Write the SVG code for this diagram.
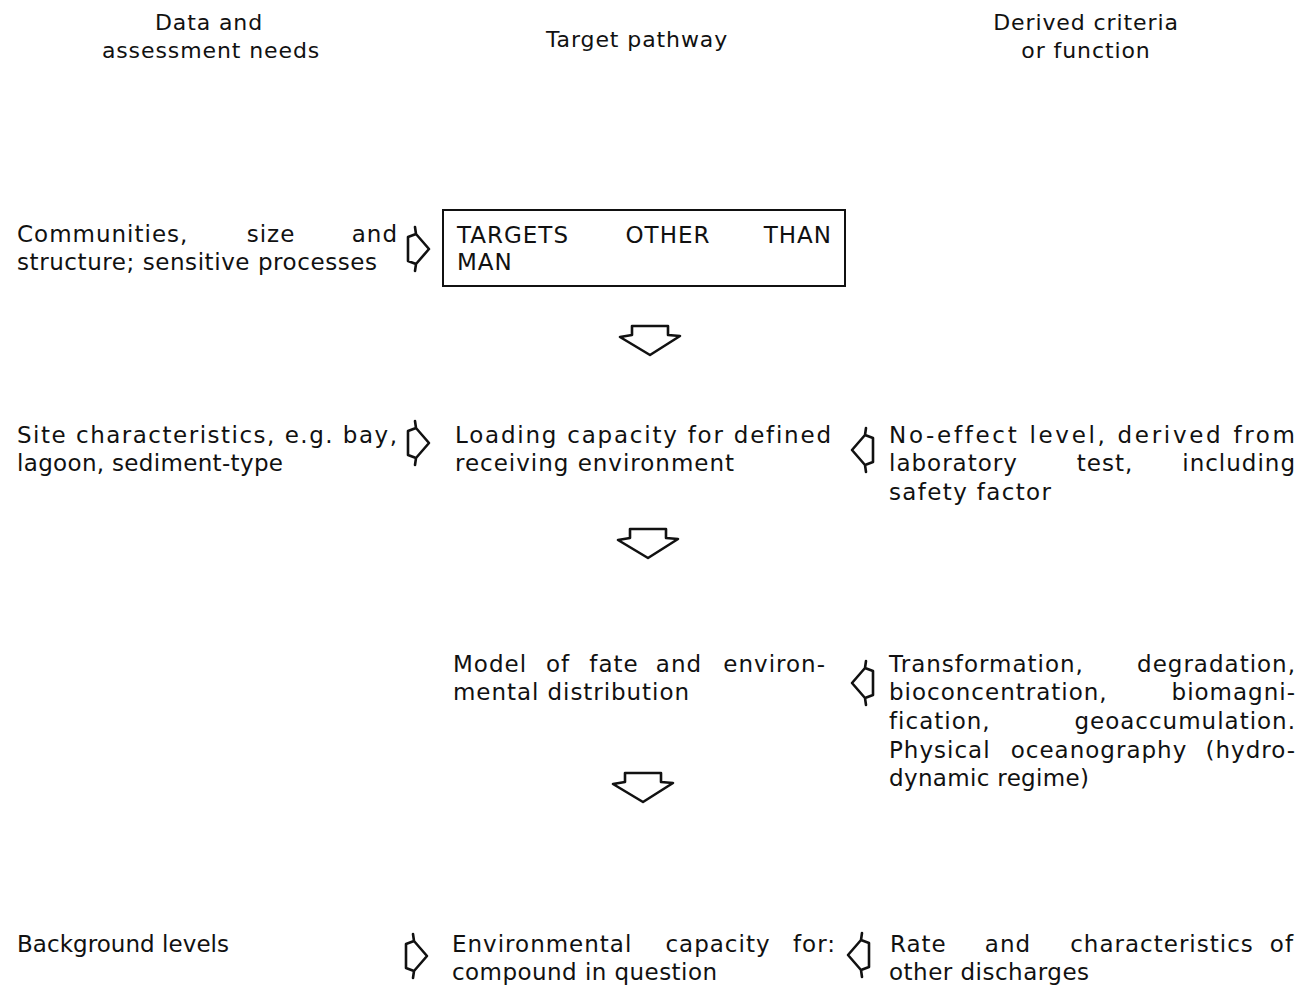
<svg xmlns="http://www.w3.org/2000/svg" xmlns:xlink="http://www.w3.org/1999/xlink" width="1311" height="987" viewBox="0 0 1311 987">
<style>
text{font-family:"DejaVu Sans","Liberation Sans",sans-serif;font-size:23px;fill:#111;letter-spacing:1px}
.h{letter-spacing:0.9px;font-size:22px}
.arr{fill:none;stroke:#111;stroke-width:2.6;stroke-linejoin:round;stroke-linecap:round}
.box{fill:none;stroke:#111;stroke-width:2}
.c{text-anchor:middle}
.e{text-anchor:end}
</style>
<defs>
<path id="ra" class="arr" d="M-13,-15 L0,0 L-13,15 L-21,12 L-21,-12 Z M-13,-15 L-14,-22 M-13,15 L-14,22"/>
<path id="da" class="arr" d="M-30,-18 L-18,-20 L-18,-29 L18,-29 L18,-20 L30,-19 L0,0 Z"/>
</defs>
<rect width="1311" height="987" fill="#fff"/>

<g id="hdr-left"><text class="c h" x="209" y="30">Data and</text><text class="c h" x="211" y="58">assessment needs</text></g>
<g id="hdr-mid"><text class="c h" x="637" y="47">Target pathway</text></g>
<g id="hdr-right"><text class="c h" x="1086" y="30">Derived criteria</text><text class="c h" x="1086" y="58">or function</text></g>

<g id="n-communities">
<text x="17" y="242">Communities,</text><text class="c" x="271" y="242">size</text><text class="e" x="398" y="242">and</text>
<text x="17" y="270" textLength="361" lengthAdjust="spacing">structure; sensitive processes</text>
</g>
<g id="n-targets">
<rect class="box" x="443" y="210" width="402" height="76"/>
<text x="457" y="243">TARGETS</text><text class="c" x="668" y="243">OTHER</text><text class="e" x="832" y="243">THAN</text>
<text x="457" y="270">MAN</text>
</g>

<g id="n-site">
<text x="17" y="443" textLength="381" lengthAdjust="spacing">Site characteristics, e.g. bay,</text>
<text x="17" y="471" textLength="267" lengthAdjust="spacing">lagoon, sediment-type</text>
</g>
<g id="n-loading">
<text x="455" y="443" textLength="377" lengthAdjust="spacing">Loading capacity for defined</text>
<text x="455" y="471" textLength="280" lengthAdjust="spacing">receiving environment</text>
</g>
<g id="n-noeffect">
<text x="889" y="443" textLength="407" lengthAdjust="spacing">No-effect level, derived from</text>
<text x="889" y="471">laboratory</text><text class="c" x="1105" y="471">test,</text><text class="e" x="1296" y="471">including</text>
<text x="889" y="500" textLength="163" lengthAdjust="spacing">safety factor</text>
</g>

<g id="n-model">
<text x="453" y="672">Model</text><text class="c" x="558" y="672">of</text><text class="c" x="614" y="672">fate</text><text class="c" x="679" y="672">and</text><text class="e" x="826" y="672">environ-</text>
<text x="453" y="700" textLength="237" lengthAdjust="spacing">mental distribution</text>
</g>
<g id="n-transform">
<text x="889" y="672">Transformation,</text><text class="e" x="1296" y="672">degradation,</text>
<text x="889" y="700">bioconcentration,</text><text class="e" x="1296" y="700">biomagni-</text>
<text x="889" y="729">fication,</text><text class="e" x="1296" y="729">geoaccumulation.</text>
<text x="889" y="758">Physical</text><text class="c" x="1099" y="758">oceanography</text><text class="e" x="1296" y="758">(hydro-</text>
<text x="889" y="786" textLength="201" lengthAdjust="spacing">dynamic regime)</text>
</g>

<g id="n-background"><text x="17" y="952" textLength="213" lengthAdjust="spacing">Background levels</text></g>
<g id="n-envcap">
<text x="452" y="952">Environmental</text><text class="c" x="718" y="952">capacity</text><text class="e" x="836" y="952">for:</text>
<text x="452" y="980" textLength="266" lengthAdjust="spacing">compound in question</text>
</g>
<g id="n-rate">
<text x="890" y="952">Rate</text><text class="c" x="1008" y="952">and</text><text class="c" x="1162" y="952">characteristics</text><text class="e" x="1294" y="952">of</text>
<text x="889" y="980" textLength="201" lengthAdjust="spacing">other discharges</text>
</g>

<g id="connectors">
<use href="#ra" xlink:href="#ra" x="429" y="249"/>
<use href="#ra" xlink:href="#ra" x="429" y="443"/>
<use href="#ra" xlink:href="#ra" x="427" y="956"/>
<use href="#ra" xlink:href="#ra" transform="translate(852,450) scale(-1,1)"/>
<use href="#ra" xlink:href="#ra" transform="translate(852,683) scale(-1,1)"/>
<use href="#ra" xlink:href="#ra" transform="translate(848,955) scale(-1,1)"/>
<use href="#da" xlink:href="#da" x="650" y="355"/>
<use href="#da" xlink:href="#da" x="648" y="558"/>
<use href="#da" xlink:href="#da" x="643" y="802"/>
</g>
</svg>
